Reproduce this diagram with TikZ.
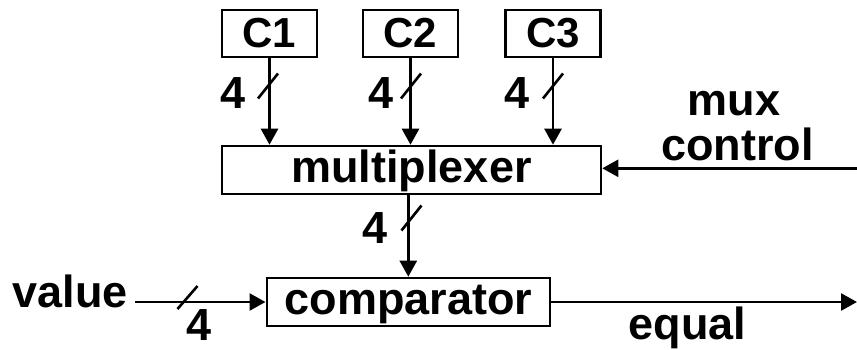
\documentclass[tikz,border=0pt]{standalone}
\usepackage{fontspec}
\setmainfont{Liberation Sans}
\usetikzlibrary{arrows.meta}
\tikzset{
  blk/.style={draw, line width=2.6pt, rectangle, inner sep=0pt, font=\fontsize{45}{45}\selectfont\bfseries},
  cbox/.style={draw, line width=2.6pt, rectangle, inner sep=0pt, minimum width=95pt, minimum height=47pt, font=\fontsize{42}{42}\selectfont\bfseries},
  lbl/.style={inner sep=0pt, font=\fontsize{45}{45}\selectfont\bfseries},
  arr/.style={line width=2.6pt, -{Triangle[length=16pt,width=17pt]}},
  slash/.style={line width=2.6pt}
}
\begin{document}
\begin{tikzpicture}[x=1pt,y=-1pt]
\useasboundingbox (0,0) rectangle (857,349);
% boxes
\node[cbox] (c1) at (269.5,33.5) {C1};
\node[cbox] (c2) at (410.5,33.5) {C2};
\node[cbox] (c3) at (553,33.5) {C3};
\node[blk, minimum width=379pt, minimum height=48pt, text height=33pt, text depth=9pt] (mux) at (411.5,170) {multiplexer};
\node[blk, minimum width=283pt, minimum height=48pt, text height=33pt, text depth=9pt] (comp) at (408.3,302) {comparator};
% labels
\node[lbl, anchor=base] (n1) at (233,108) {4};
\node[lbl, anchor=base] (n2) at (381,108) {4};
\node[lbl, anchor=base] (n3) at (517,108) {4};
\node[lbl, anchor=base] (n4) at (375,243) {4};
\node[lbl, anchor=base] (n5) at (199,340) {4};
\node[lbl, anchor=base east] (val) at (128,307) {value};
\node[lbl, anchor=base] (eq) at (687.5,339) {equal};
\node[lbl, anchor=base] (mx) at (734,115) {mux};
\node[lbl, anchor=base] (ctl) at (737.5,160) {control};
% free ends
\coordinate (mcin) at (857,168.3);
\coordinate (eqout) at (857,302);
% connectors
\draw[arr] (c1.south) -- (c1.south |- mux.north);
\draw[arr] (c2.south) -- (c2.south |- mux.north);
\draw[arr] (c3.south) -- (c3.south |- mux.north);
\draw[arr] (comp.north |- mux.south) -- (comp.north);
\draw[arr] (val.east |- comp.west) ++(7,0) -- (comp.west);
\draw[arr] (comp.east) -- (eqout);
\draw[arr] (mcin) -- (mux.east |- mcin);
% bus width slashes
\draw[slash] (258,98.5) -- ++(20,-25);
\draw[slash] (401,98.5) -- ++(20,-25);
\draw[slash] (543,98.5) -- ++(20,-25);
\draw[slash] (401.5,230.5) -- ++(20,-25);
\draw[slash] (177.5,309) -- ++(20,-23);
\end{tikzpicture}
\end{document}
